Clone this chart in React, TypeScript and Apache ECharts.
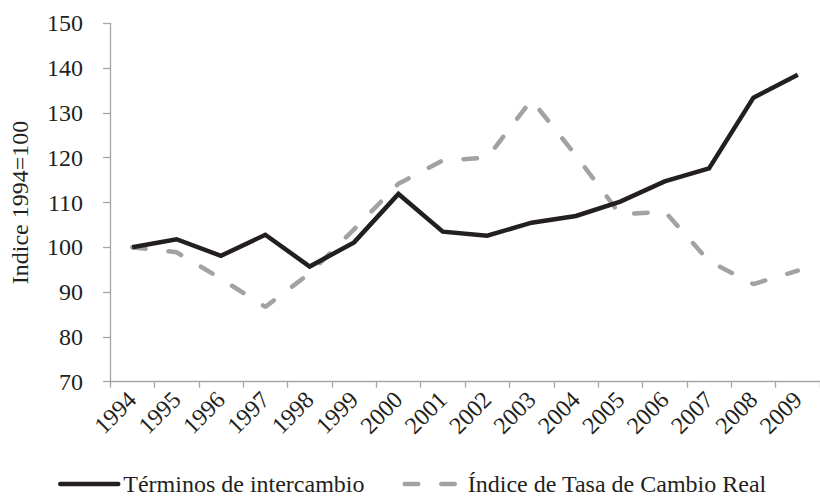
import React, { useEffect, useRef } from "react";
import * as echarts from "echarts";

const years = ["1994","1995","1996","1997","1998","1999","2000","2001","2002","2003","2004","2005","2006","2007","2008","2009"];
const terminos = [100, 101.8, 98.1, 102.8, 95.7, 101.1, 111.9, 103.5, 102.6, 105.5, 107.0, 110.2, 114.7, 117.6, 133.4, 138.5];
const tasaReal = [100, 98.9, 93.0, 86.7, 94.2, 104.0, 114.2, 119.4, 120.0, 132.9, 120.5, 107.3, 108.0, 96.9, 91.8, 94.8];
const yTicks = { min: 70, max: 150, interval: 10 };
const seriesNames = ["Términos de intercambio", "Índice de Tasa de Cambio Real"];
const yTitle = "Indice 1994=100";

const FONT = "'Liberation Serif', 'Times New Roman', Times, serif";
const TXT = "#231f20";
const AXIS = "#a6a6a6";

export default function App() {
  const ref = useRef<HTMLDivElement>(null);
  useEffect(() => {
    if (!ref.current) return;
    const chart = echarts.init(ref.current, null, { renderer: "svg" });
    chart.setOption({
      animation: false,
      textStyle: { fontFamily: FONT, color: TXT },
      grid: { left: 108.7, right: -3, top: 23.3, bottom: 114.3, containLabel: false },
      legend: {
        left: 58,
        top: 472,
        padding: 0,
        itemWidth: 58,
        itemHeight: 14,
        itemGap: 38,
        itemStyle: { opacity: 0 },
        lineStyle: { width: 4.5, cap: "round" },
        textStyle: { fontFamily: FONT, fontSize: 24, lineHeight: 24, color: TXT },
        data: seriesNames,
      },
      xAxis: {
        type: "category",
        data: years,
        boundaryGap: true,
        axisLine: { lineStyle: { color: AXIS, width: 1.3 } },
        axisTick: { show: true, length: 6, lineStyle: { color: AXIS, width: 1.3 } },
        axisLabel: { rotate: 45, margin: 14, fontSize: 24, fontFamily: FONT, color: TXT, interval: 0 },
        splitLine: { show: false },
      },
      yAxis: {
        type: "value",
        min: yTicks.min,
        max: yTicks.max,
        interval: yTicks.interval,
        name: yTitle,
        nameLocation: "middle",
        nameGap: 78,
        nameTextStyle: { fontFamily: FONT, fontSize: 24, color: TXT },
        axisLine: { show: true, lineStyle: { color: AXIS, width: 1.3 } },
        axisTick: { show: true, length: 7, lineStyle: { color: AXIS, width: 1.3 } },
        axisLabel: { margin: 27, fontSize: 24, fontFamily: FONT, color: TXT },
        splitLine: { show: false },
      },
      series: [
        {
          name: seriesNames[0],
          type: "line",
          data: terminos,
          symbol: "none",
          lineStyle: { color: "#231f20", width: 4.5, join: "miter" },
          itemStyle: { color: "#231f20" },
          z: 3,
        },
        {
          name: seriesNames[1],
          type: "line",
          data: tasaReal,
          symbol: "none",
          lineStyle: { color: "#a2a2a5", width: 4.5, type: [13.5, 23], cap: "round" },
          itemStyle: { color: "#a2a2a5" },
          z: 2,
        },
      ],
    });
    return () => chart.dispose();
  }, []);
  return (
    <div
      ref={ref}
      style={{ position: "absolute", left: 0, top: 0, width: 820, height: 496, background: "#fff" }}
    />
  );
}
